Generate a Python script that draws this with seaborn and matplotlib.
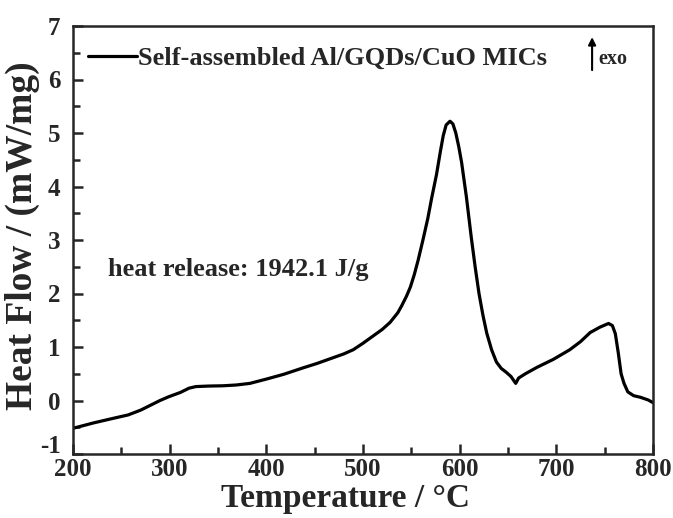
import numpy as np
import matplotlib
matplotlib.use("Agg")
import matplotlib.pyplot as plt
import matplotlib.transforms as mtransforms
import seaborn as sns
import pandas as pd
from matplotlib.ticker import MultipleLocator

# -------------------------------------------------------------------
# data
# -------------------------------------------------------------------
temperature = [200, 221, 240, 257, 270, 280, 290, 299, 311, 320, 327, 340, 355, 369, 383,
               400, 418, 438, 452, 466, 480, 490, 500, 510, 520, 528, 536, 540, 545, 549,
               553, 557, 562, 567, 571, 576, 580, 583, 586, 590, 593, 596, 599, 602, 607,
               612, 616, 620, 624, 628, 633, 638, 643, 648, 653, 658, 661, 668, 680, 697,
               714, 725, 735, 745, 754, 758, 761, 764, 767, 770, 774, 780, 787, 795, 800]
heat_flow = [-0.52, -0.42, -0.34, -0.27, -0.18, -0.09, 0.00, 0.07, 0.15, 0.23, 0.26, 0.27, 0.275, 0.29, 0.32,
             0.40, 0.49, 0.61, 0.69, 0.78, 0.87, 0.95, 1.07, 1.20, 1.33, 1.46, 1.64, 1.77, 1.95, 2.12,
             2.35, 2.62, 3.00, 3.40, 3.78, 4.22, 4.65, 4.95, 5.15, 5.22, 5.17, 5.00, 4.75, 4.45, 3.80,
             3.05, 2.50, 2.00, 1.60, 1.26, 0.95, 0.72, 0.60, 0.53, 0.45, 0.32, 0.42, 0.50, 0.62, 0.77,
             0.95, 1.10, 1.27, 1.37, 1.44, 1.40, 1.25, 0.90, 0.50, 0.32, 0.16, 0.09, 0.06, 0.01, -0.04]
series_name = "Self-assembled Al/GQDs/CuO MICs"
note_text = "heat release: 1942.1 J/g"

# -------------------------------------------------------------------
# style
# -------------------------------------------------------------------
sns.set_style("ticks")
plt.rcParams['font.family'] = ['Liberation Serif', 'DejaVu Serif']
plt.rcParams['font.weight'] = 'bold'
plt.rcParams['axes.labelweight'] = 'bold'
plt.rcParams['axes.unicode_minus'] = False


def main():
    df = pd.DataFrame({"T": temperature, "H": heat_flow})

    fig = plt.figure(figsize=(6.73, 5.18), dpi=100)
    ax = fig.add_axes([73 / 673, 1 - 454 / 518, 580 / 673, 428 / 518])

    sns.lineplot(data=df, x="T", y="H", sort=False, color="black", linewidth=2.3,
                 label=series_name, ax=ax)

    ax.set_xlim(200, 800)
    ax.set_ylim(-1, 7)
    ax.xaxis.set_major_locator(MultipleLocator(100))
    ax.xaxis.set_minor_locator(MultipleLocator(50))
    ax.yaxis.set_major_locator(MultipleLocator(1))
    ax.yaxis.set_minor_locator(MultipleLocator(0.5))
    ax.tick_params(which="major", direction="in", length=7, width=1.8, labelsize=18,
                   top=False, right=False)
    ax.tick_params(axis="x", which="major", pad=3)
    ax.tick_params(axis="y", which="major", pad=9)
    ax.tick_params(which="minor", direction="in", length=5, width=1.8, top=False, right=False)
    for sp in ax.spines.values():
        sp.set_linewidth(1.8)
        sp.set_visible(True)

    ax.set_xlabel("Temperature / \u00b0C", fontsize=24)
    ax.xaxis.set_label_coords((345 - 73) / 580, -(483 - 454) / 428)
    ax.set_ylabel("Heat Flow / (mW/mg)", fontsize=27)
    ax.yaxis.set_label_coords((40 - 73) / 580, (454 - 236) / 428)

    leg = ax.legend(loc="center left", frameon=False, fontsize=19, handlelength=1.85,
                    borderaxespad=0, borderpad=0, handletextpad=0.05,
                    bbox_to_anchor=(0.026, 0.925))
    for t in leg.get_texts():
        t.set_fontweight("bold")

    ax.text(0.06, 0.43, note_text, transform=ax.transAxes, fontsize=19, fontweight="bold",
            va="center", ha="left")

    ax.annotate("", xy=(0.895, 0.974), xytext=(0.895, 0.897), xycoords="axes fraction",
                arrowprops=dict(arrowstyle="-|>", color="black", lw=1.5, mutation_scale=11,
                                shrinkA=0, shrinkB=0))
    ax.text(0.905, 0.922, "exo", transform=ax.transAxes, fontsize=14.5, fontweight="bold",
            va="center", ha="left")

    # nudge the "-1" label up a little so it clears "200"
    fig.canvas.draw()
    shift = mtransforms.ScaledTranslation(0, 10 / 100, fig.dpi_scale_trans)
    for lab in ax.get_yticklabels():
        if lab.get_text() == "-1":
            lab.set_transform(lab.get_transform() + shift)

    fig.savefig("out.png", dpi=100)


if __name__ == '__main__':
    main()
